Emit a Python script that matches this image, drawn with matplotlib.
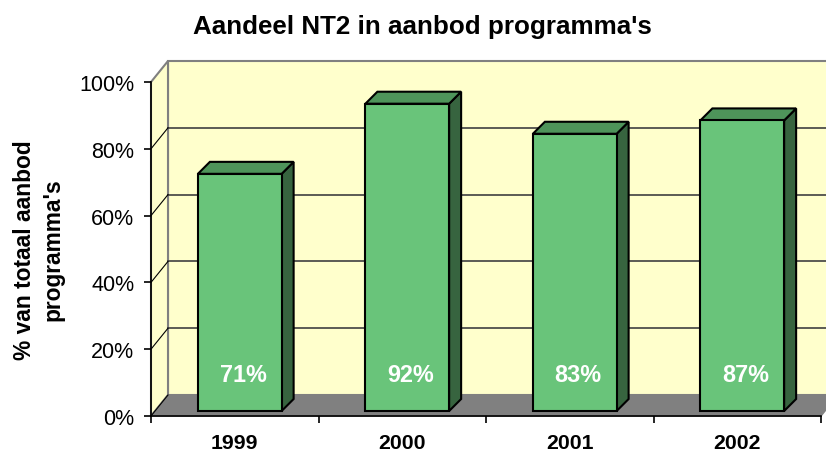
import matplotlib
matplotlib.use('Agg')
import matplotlib.pyplot as plt
from matplotlib.patches import Polygon

years = ['1999', '2000', '2001', '2002']
share = [0.71, 0.92, 0.83, 0.87]
yticks = [0, 0.2, 0.4, 0.6, 0.8, 1.0]
ytick_labels = ['0%', '20%', '40%', '60%', '80%', '100%']

plt.rcParams['font.family'] = ['Liberation Sans', 'DejaVu Sans']

fig = plt.figure(figsize=(8.26, 4.52), dpi=100)
ax = fig.add_axes([151 / 826, 35 / 452, 670 / 826, 334 / 452])
ax.set_xlim(-0.5, 3.5)
ax.set_ylim(0, 1)
ax.patch.set_visible(False)

# pixel sizes turned into data units (1 category = 167.5 px, 100% = 334 px)
px_x = 1 / 167.5
px_y = 1 / 334
wx, wy = 17 * px_x, 21 * px_y      # depth of walls
fx, fy = 5 * px_x, 5 * px_y        # bar front offset
bx, by = 12 * px_x, 12 * px_y      # bar depth
half = 0.25

x_lo, x_hi = -0.5, len(years) - 0.5

# back wall
ax.add_patch(Polygon([(x_lo + wx, wy), (x_hi + wx, wy), (x_hi + wx, 1 + wy),
                      (x_lo + wx, 1 + wy)], closed=True, facecolor='#FFFFCC',
                     edgecolor='#808080', lw=1.5, clip_on=False, zorder=1))
# side wall
ax.add_patch(Polygon([(x_lo, 0), (x_lo + wx, wy), (x_lo + wx, 1 + wy), (x_lo, 1)],
                     closed=True, facecolor='#FFFFCC', edgecolor='#808080',
                     lw=1.5, clip_on=False, zorder=1))
# floor
ax.add_patch(Polygon([(x_lo, 0), (x_hi, 0), (x_hi + wx, wy), (x_lo + wx, wy)],
                     closed=True, facecolor='#808080', edgecolor='#808080',
                     lw=1, clip_on=False, zorder=1))

# gridlines on back and side wall
for t in yticks[1:-1]:
    ax.plot([x_lo + wx, x_hi + wx], [t + wy, t + wy], color='#404040', lw=1.2,
            clip_on=False, zorder=2)
    ax.plot([x_lo, x_lo + wx], [t, t + wy], color='black', lw=0.8,
            clip_on=False, zorder=2)
ax.plot([x_lo, x_lo + wx], [0, wy], color='black', lw=0.8, clip_on=False, zorder=2)

# bars
for i, v in enumerate(share):
    x0 = i - half + fx
    x1 = i + half + fx
    b = fy
    top = b + v
    ax.add_patch(Polygon([(x1, b), (x1 + bx, b + by), (x1 + bx, top + by), (x1, top)],
                         closed=True, facecolor='#37643F', edgecolor='black',
                         lw=1.5, zorder=3, clip_on=False))
    ax.add_patch(Polygon([(x0, top), (x0 + bx, top + by), (x1 + bx, top + by), (x1, top)],
                         closed=True, facecolor='#4E945A', edgecolor='black',
                         lw=1.5, zorder=3, clip_on=False))
    ax.add_patch(Polygon([(x0, b), (x1, b), (x1, top), (x0, top)],
                         closed=True, facecolor='#69C47A', edgecolor='black',
                         lw=1.5, zorder=4, clip_on=False))
    ax.text(i + fx + 0.02, b + 0.11, '{:.0f}%'.format(v * 100), color='white',
            fontsize=16.8, fontweight='bold', ha='center', va='center', zorder=5)

# axes
for s in ['top', 'right']:
    ax.spines[s].set_visible(False)
ax.spines['left'].set_linewidth(1.2)
ax.spines['bottom'].set_linewidth(1.2)
ax.set_yticks(yticks)
ax.set_yticklabels(ytick_labels, fontsize=15.5)
ax.tick_params(axis='y', length=5, width=1.2, pad=7)
ax.set_xticks([i - 0.5 for i in range(len(years) + 1)])
ax.set_xticklabels([])
ax.tick_params(axis='x', which='major', length=5, width=1.2)
ax.set_xticks(range(len(years)), minor=True)
ax.set_xticklabels(years, minor=True, fontsize=15.3, fontweight='bold')
ax.tick_params(axis='x', which='minor', length=0, pad=12)

fig.text(422 / 826, 1 - 27 / 452, "Aandeel NT2 in aanbod programma's",
         fontsize=18.7, fontweight='bold', ha='center', va='center')
fig.text(39 / 826, 1 - 250 / 452, "% van totaal aanbod\nprogramma's",
         fontsize=16.4, fontweight='bold', ha='center', va='center', rotation=90,
         multialignment='center', linespacing=1.3)

fig.savefig('out.png', dpi=100)
